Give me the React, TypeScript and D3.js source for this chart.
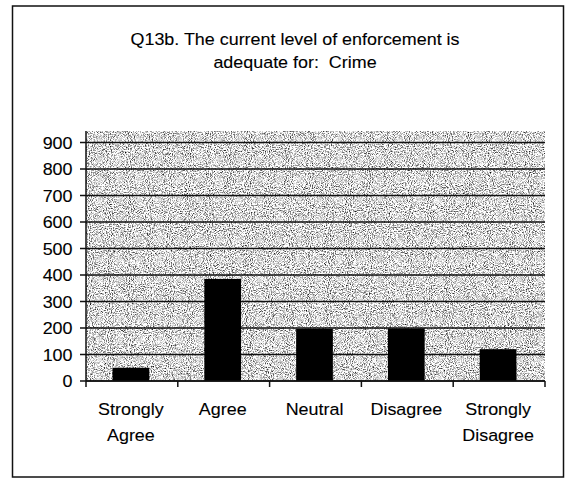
import React from "react";
import * as d3 from "d3";

const categories: string[][] = [
  ["Strongly", "Agree"],
  ["Agree"],
  ["Neutral"],
  ["Disagree"],
  ["Strongly", "Disagree"],
];
const values: number[] = [50, 385, 197, 198, 120];
const yTicks: number[] = [0, 100, 200, 300, 400, 500, 600, 700, 800, 900];
const titleLines: string[] = [
  "Q13b. The current level of enforcement is",
  "adequate for:  Crime",
];

const W = 565;
const H = 479;
const plot = { left: 86, right: 545, top: 131, bottom: 381 };
const SX = 1.12;
const FONT = "'Liberation Sans', Arial, sans-serif";

function T({ x, y, anchor = "middle", size = 16, dy = "0", children }: any) {
  return (
    <g transform={`translate(${x},${y}) scale(${SX},1)`}>
      <text
        textAnchor={anchor}
        fontSize={size}
        dy={dy}
        fontFamily={FONT}
        fill="#000"
        style={{ whiteSpace: "pre" }}
        stroke="#000"
        strokeWidth={0.1}
      >
        {children}
      </text>
    </g>
  );
}

export default function App() {
  const x = d3
    .scaleBand<number>()
    .domain(d3.range(categories.length))
    .range([plot.left, plot.right])
    .paddingInner(0)
    .paddingOuter(0);
  const y = d3.scaleLinear().domain([0, 943]).range([plot.bottom, plot.top]);
  const bw = x.bandwidth() * 0.4;

  return (
    <svg width={W} height={H} style={{ position: "absolute", left: 0, top: 0, background: "#fff" }}>
      <defs>
        <filter id="noise" x="0" y="0" width="100%" height="100%" colorInterpolationFilters="sRGB">
          <feTurbulence type="fractalNoise" baseFrequency="0.95" numOctaves={2} seed={4} result="t" />
          <feColorMatrix
            in="t"
            type="matrix"
            values="2.2 0 0 0 -0.24  2.2 0 0 0 -0.24  2.2 0 0 0 -0.24  0 0 0 0 1"
          />
        </filter>
      </defs>
      <rect x={0} y={0} width={W} height={H} fill="#fff" />
      <rect x={12.5} y={6} width={551} height={471} fill="none" stroke="#111" strokeWidth={1.5} />

      {titleLines.map((t, i) => (
        <T key={i} x={295} y={45 + i * 22.5} size={16}>
          {t}
        </T>
      ))}

      <rect
        x={plot.left}
        y={plot.top}
        width={plot.right - plot.left}
        height={plot.bottom - plot.top}
        fill="#c6c6c6"
        filter="url(#noise)"
      />

      {yTicks.map((v) => (
        <g key={v}>
          <line x1={plot.left - 6} x2={plot.right} y1={y(v)} y2={y(v)} stroke="#111" strokeWidth={1.5} />
          <T x={72.5} y={y(v) + 0.8} anchor="end" dy="0.35em">
            {v}
          </T>
        </g>
      ))}

      {values.map((v, i) => (
        <rect
          key={i}
          x={(x(i) as number) + (x.bandwidth() - bw) / 2 - 1}
          y={y(v)}
          width={bw}
          height={y(0) - y(v)}
          fill="#000"
        />
      ))}

      <line x1={plot.left} x2={plot.left} y1={plot.top} y2={plot.bottom} stroke="#111" strokeWidth={1.5} />
      <line x1={plot.left} x2={plot.right} y1={plot.bottom} y2={plot.bottom} stroke="#111" strokeWidth={1.5} />
      {d3.range(categories.length + 1).map((i) => {
        const xx = i < categories.length ? (x(i) as number) : plot.right;
        return <line key={i} x1={xx} x2={xx} y1={plot.bottom} y2={plot.bottom + 6} stroke="#111" strokeWidth={1.5} />;
      })}

      {categories.map((lines, i) =>
        lines.map((l, j) => (
          <T key={`${i}-${j}`} x={(x(i) as number) + x.bandwidth() / 2 - 1} y={415 + j * 25.5}>
            {l}
          </T>
        ))
      )}
    </svg>
  );
}
